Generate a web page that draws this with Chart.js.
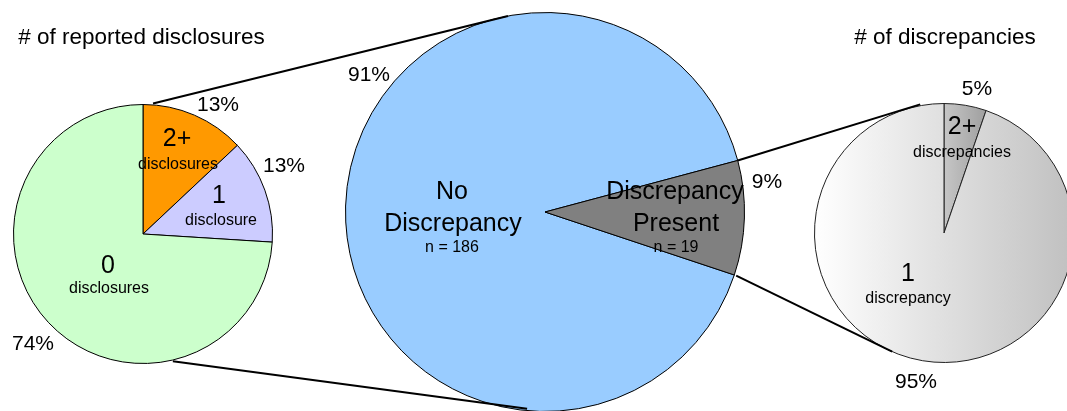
<!DOCTYPE html>
<html><head><meta charset="utf-8">
<script src="https://cdn.jsdelivr.net/npm/chart.js@4.4.0/dist/chart.umd.min.js"></script>
<style>
html,body{margin:0;padding:0;background:#fff;overflow:hidden;width:1067px;height:411px}
#wrap{position:relative;width:1067px;height:411px;overflow:hidden}
canvas{position:absolute;left:0;top:0}
</style></head><body>
<div id="wrap">
<canvas id="c1" width="1100" height="430"></canvas>
<canvas id="c2" width="1100" height="430"></canvas>
<canvas id="c3" width="1100" height="430"></canvas>
</div>
<script>
// ---- data ----
const disclosureTitle = '# of reported disclosures';
const disclosureBig = ['2+', '1', '0'];
const disclosureSmall = ['disclosures', 'disclosure', 'disclosures'];
const disclosureShares = [13, 13, 74];

const discrepancyBig = [['No', 'Discrepancy'], ['Discrepancy', 'Present']];
const discrepancyCounts = [186, 19];

const multiTitle = '# of discrepancies';
const multiBig = ['2+', '1'];
const multiSmall = ['discrepancies', 'discrepancy'];
const multiCounts = [1, 18];

// ---- helpers ----
const W = 1100, H = 430;
const FONT = '"Liberation Sans", Arial, sans-serif';
function pad(cx, cy, r) { return {left: cx - r, top: cy - r, right: W - cx - r, bottom: H - cy - r}; }
function pct(arr) { const s = arr.reduce((a, b) => a + b, 0); return arr.map(v => Math.round(v / s * 100) + '%'); }
function center(chart) { return chart.getDatasetMeta(0).data[0]; }
function pointAt(chart, deg, rf) {
  const a = center(chart); const rad = (deg - 90) * Math.PI / 180;
  return [a.x + Math.cos(rad) * a.outerRadius * rf, a.y + Math.sin(rad) * a.outerRadius * rf];
}

const textPlugin = {
  id: 'sliceText',
  afterDatasetsDraw(chart, args, opts) {
    const a = center(chart); const ctx = chart.ctx;
    ctx.save(); ctx.fillStyle = '#000'; ctx.textAlign = 'center'; ctx.textBaseline = 'middle';
    (opts.items || []).forEach(it => {
      ctx.font = it.size + 'px ' + FONT;
      ctx.fillText(it.text, a.x + it.dx, a.y + it.dy);
    });
    ctx.restore();
  }
};

function makePie(id, cx, cy, r, data, colors, border, rotation, items, extraPlugins) {
  return new Chart(document.getElementById(id), {
    type: 'pie',
    data: {labels: data.map((_, i) => String(i)), datasets: [{data: data, backgroundColor: colors, borderColor: border, borderWidth: 1}]},
    options: {
      responsive: false, animation: false, rotation: rotation,
      layout: {padding: pad(cx, cy, r)},
      plugins: {legend: {display: false}, tooltip: {enabled: false}, sliceText: {items: items}}
    },
    plugins: [textPlugin].concat(extraPlugins || [])
  });
}

// ---- left pie ----
const lp = pct(disclosureShares);
const leftItems = [
  {text: disclosureTitle, dx: -1.5, dy: -196, size: 22.5},
  {text: disclosureBig[0], dx: 34, dy: -95, size: 25},
  {text: disclosureSmall[0], dx: 35, dy: -69, size: 16},
  {text: disclosureBig[1], dx: 76, dy: -38, size: 25},
  {text: disclosureSmall[1], dx: 78, dy: -13, size: 16},
  {text: disclosureBig[2], dx: -35, dy: 32, size: 25},
  {text: disclosureSmall[2], dx: -34, dy: 55, size: 16},
  {text: lp[0], dx: 75, dy: -129, size: 21},
  {text: lp[1], dx: 141, dy: -68, size: 21},
  {text: lp[2], dx: -110, dy: 110, size: 21}
];
const leftChart = makePie('c1', 143, 234, 130, disclosureShares, ['#FF9900', '#CCCCFF', '#CCFFCC'], '#000', 0, leftItems);

// ---- middle pie ----
const mp = pct(discrepancyCounts);
const midItems = [
  {text: discrepancyBig[0][0], dx: -93, dy: -20, size: 25},
  {text: discrepancyBig[0][1], dx: -92, dy: 12, size: 25},
  {text: 'n = ' + discrepancyCounts[0], dx: -93, dy: 36, size: 16},
  {text: discrepancyBig[1][0], dx: 130, dy: -20, size: 25},
  {text: discrepancyBig[1][1], dx: 131, dy: 12, size: 25},
  {text: 'n = ' + discrepancyCounts[1], dx: 131, dy: 36, size: 16},
  {text: mp[0], dx: -176, dy: -137, size: 21},
  {text: mp[1], dx: 222, dy: -29.5, size: 21}
];
const midChart = makePie('c2', 545, 212, 200, discrepancyCounts, ['#99CCFF', '#808080'], '#000', 108.4, midItems);

// ---- right pie ----
const rp = pct(multiCounts);
const rightItems = [
  {text: multiTitle, dx: 1, dy: -195, size: 22.5},
  {text: multiBig[0], dx: 18, dy: -106, size: 25},
  {text: multiSmall[0], dx: 18, dy: -80.5, size: 16},
  {text: multiBig[1], dx: -36, dy: 41, size: 25},
  {text: multiSmall[1], dx: -36, dy: 66, size: 16},
  {text: rp[0], dx: 33, dy: -144, size: 21},
  {text: rp[1], dx: -28, dy: 149.5, size: 21}
];
function grayFill(ctx) {
  const ch = ctx.chart; const ca = ch.chartArea;
  if (!ca) return '#ddd';
  const cx = (ca.left + ca.right) / 2; const r = (ca.right - ca.left) / 2;
  let g;
  if (ctx.dataIndex === 0) {
    g = ch.ctx.createLinearGradient(cx, 0, cx + r * 0.35, 0);
    g.addColorStop(0, '#c6c6c6'); g.addColorStop(1, '#9c9c9c');
  } else {
    g = ch.ctx.createLinearGradient(ca.left, 0, ca.right, 0);
    g.addColorStop(0, '#ffffff'); g.addColorStop(1, '#c0c0c0');
  }
  return g;
}
const connectorPlugin = {
  id: 'connectors',
  afterDraw(chart) {
    const ctx = chart.ctx;
    const gray = midChart.getDatasetMeta(0).data[1];
    const gp = (ang, rf) => [gray.x + Math.cos(ang) * gray.outerRadius * rf, gray.y + Math.sin(ang) * gray.outerRadius * rf];
    const segs = [
      [pointAt(leftChart, 4.4, 1.01), pointAt(midChart, -10.7, 1.0)],
      [pointAt(leftChart, 166.8, 1.01), pointAt(midChart, 185.2, 0.99)],
      [gp(gray.startAngle, 1.0), pointAt(chart, -10.5, 1.01)],
      [gp(gray.endAngle, 1.01), pointAt(chart, 203.6, 1.0)]
    ];
    ctx.save(); ctx.strokeStyle = '#000'; ctx.lineWidth = 2; ctx.lineCap = 'butt';
    segs.forEach(s => { ctx.beginPath(); ctx.moveTo(s[0][0], s[0][1]); ctx.lineTo(s[1][0], s[1][1]); ctx.stroke(); });
    ctx.restore();
  }
};
const rightChart = makePie('c3', 944, 233, 130, multiCounts, grayFill, '#222', 0, rightItems, [connectorPlugin]);
</script>
</body></html>
